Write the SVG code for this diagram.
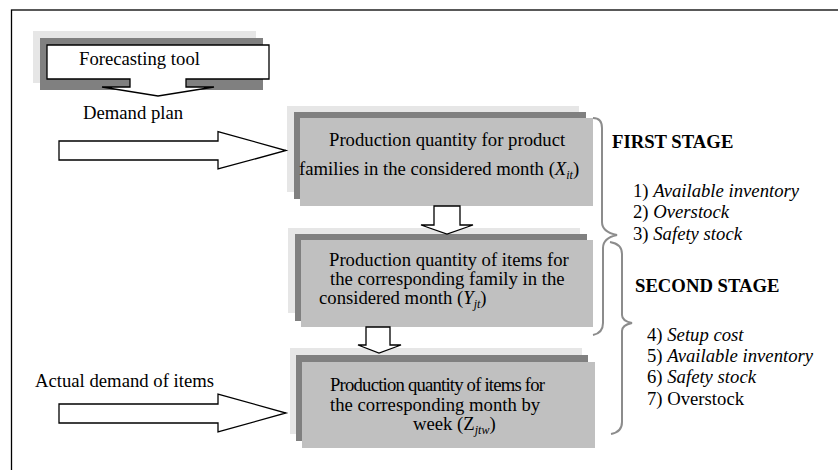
<svg xmlns="http://www.w3.org/2000/svg" width="838" height="470" viewBox="0 0 838 470">
<style>
text{font-family:"Liberation Serif","Times New Roman",serif;font-size:18.7px;fill:#000}
.b{font-weight:bold}
.i{font-style:italic}
.light{fill:#e6e6e6}
.dark{fill:#808080}
.main{fill:#c0c0c0}
.blk{fill:#fff;stroke:#000;stroke-width:1.3;stroke-linejoin:miter}
.brace{fill:none;stroke:#8c8c8c;stroke-width:2}
</style>
<rect x="11.5" y="10" width="900" height="500" fill="#fff" stroke="#000" stroke-width="1.3"/>

<g id="forecasting">
<rect class="light" x="33" y="31" width="223" height="52"/>
<rect class="dark" x="40" y="38" width="223" height="52"/>
<path class="blk" d="M47,45 H269 V79 H186 V87 H214 L158,96 L102,87 H130 V79 H47 Z"/>
<text x="79" y="65">Forecasting tool</text>
</g>

<g id="demand-plan">
<text x="83" y="119">Demand plan</text>
</g>

<g id="actual-demand">
<text x="35" y="387">Actual demand of items</text>
</g>

<g id="node-x">
<rect class="light" x="287" y="106" width="292" height="86"/>
<rect class="dark" x="294" y="112" width="292" height="87"/>
<rect class="main" x="300" y="118" width="293" height="88"/>
<text x="329" y="146">Production quantity for product</text>
<text x="299" y="175">families in the considered month (<tspan class="i">X</tspan><tspan class="i" font-size="12" dy="4">it</tspan><tspan dy="-4">)</tspan></text>
</g>

<g id="node-y">
<rect class="light" x="288" y="228" width="292" height="85"/>
<rect class="dark" x="295" y="234" width="292" height="87"/>
<rect class="main" x="301" y="240" width="292" height="87"/>
<text x="329" y="266">Production quantity of items for</text>
<text x="330" y="285">the corresponding family in the</text>
<text x="319" y="304">considered month (<tspan class="i">Y</tspan><tspan class="i" font-size="12" dy="4">jt</tspan><tspan dy="-4">)</tspan></text>
</g>

<g id="node-z">
<rect class="light" x="290" y="348" width="292" height="86"/>
<rect class="dark" x="296" y="355" width="292" height="86"/>
<rect class="main" x="302" y="362" width="293" height="86"/>
<text x="330" y="391" textLength="215" lengthAdjust="spacing">Production quantity of items for</text>
<text x="330" y="411">the corresponding month by</text>
<text x="413" y="430">week (Z<tspan class="i" font-size="12" dy="4">jtw</tspan><tspan dy="-4">)</tspan></text>
</g>

<g id="connectors">
<polygon class="blk" points="59,141 218,141 218,131.5 286,150.5 218,169 218,160 59,160"/>
<polygon class="blk" points="59,404 218,404 218,394 286,413 218,432 218,423 59,423"/>
<polygon class="blk" points="434,206 460,206 460,225 473,225 447,234 421,225 434,225"/>
<polygon class="blk" points="366,327 390,327 390,345 401,345 379,353 358,345 366,345"/>
<path class="brace" d="M593,118 Q602,118 602,128 L602,222 Q602,232 617,235 Q603,238 603,248 L603,323 Q603,333 593,335"/>
<path class="brace" d="M610,242 Q622,244 622,254 L622,315 Q622,321 632,323 Q622,325 622,331 L622,422 Q622,432 611,434"/>
</g>

<g id="first-stage">
<text class="b" x="612" y="148">FIRST STAGE</text>
<text x="633" y="197">1) <tspan class="i">Available inventory</tspan></text>
<text x="633" y="218">2) <tspan class="i">Overstock</tspan></text>
<text x="633" y="240">3) <tspan class="i">Safety stock</tspan></text>
</g>

<g id="second-stage">
<text class="b" x="635" y="292">SECOND STAGE</text>
<text x="647" y="341">4) <tspan class="i">Setup cost</tspan></text>
<text x="647" y="362">5) <tspan class="i">Available inventory</tspan></text>
<text x="647" y="383">6) <tspan class="i">Safety stock</tspan></text>
<text x="647" y="405">7) Overstock</text>
</g>
</svg>
